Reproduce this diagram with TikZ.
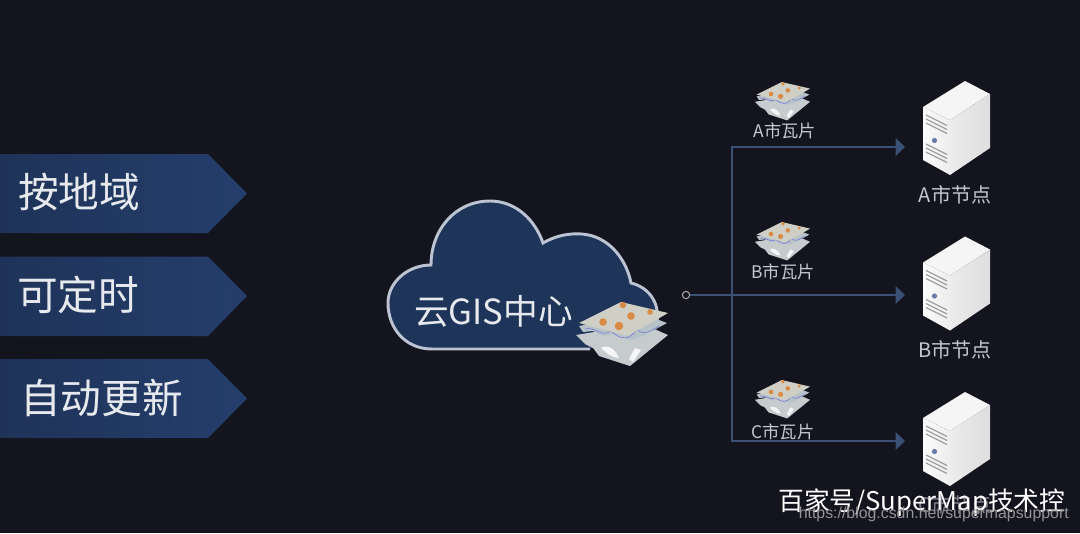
\documentclass[tikz,border=0pt]{standalone}
\usepackage{fontspec}
\setmainfont{Noto Sans CJK SC}
\newfontfamily\latinf{Liberation Sans}
\usetikzlibrary{arrows.meta}
\definecolor{bgc}{HTML}{14141F}
\definecolor{bandc}{HTML}{243E6C}
\definecolor{bandl}{HTML}{1F3358}
\definecolor{cloudc}{HTML}{1E3458}
\definecolor{cloudl}{HTML}{BCC3D2}
\definecolor{linec}{HTML}{3A5075}
\definecolor{txtc}{HTML}{E6E9EE}
\definecolor{lblc}{HTML}{C4C8CE}
\definecolor{tiletop}{HTML}{CFCFC6}
\definecolor{tilemid}{HTML}{B7C2C8}
\definecolor{tilebot}{HTML}{C6CBCE}
\definecolor{spotc}{HTML}{D98A45}
\tikzset{
  bandshape/.style={left color=bandl,right color=bandc,draw=none},
  bandtext/.style={text=txtc,font=\fontsize{30.5}{31}\selectfont,inner sep=0pt,anchor=west},
  tilelabel/.style={text=lblc,font=\fontsize{13}{14}\selectfont,inner sep=0pt},
  nodelabel/.style={text=lblc,font=\fontsize{15}{16}\selectfont,inner sep=0pt},
  conn/.style={draw=linec,line width=2pt},
  connarrow/.style={conn,-{Triangle[length=7pt,width=13pt,fill=linec]}},
  tiles/.pic={
    \fill[tilebot] (-47,3) -- (-38,12) -- (-30,16) -- (-24,24) -- (7,34) -- (45,3) -- (20,-8) -- cycle;
    \fill[white!92!gray] (-22,16) .. controls (-16,12) and (-8,16) .. (-4,26) .. controls (-10,26) and (-16,22) .. (-22,16) -- cycle;
    \fill[white!92!gray] (6,27) -- (12,16) -- (18,18) -- (10,30) -- cycle;
    \fill[tilemid] (-44,-6) -- (-40,0) -- (-30,-1) -- (-20,4) -- (-8,2) -- (8,8) -- (20,4) -- (44,-9) -- (20,-18) -- cycle;
    \draw[draw=tilemid!60!blue,line width=.4pt] (-38,-3) .. controls (-28,-6) and (-22,6) .. (-12,-1) .. controls (-2,8) and (6,9) .. (14,-3) .. controls (20,4) and (26,0) .. (36,-6);
    \fill[tiletop] (-44,-9) -- (-2,-30) -- (45,-19) -- (33,-12) -- (4,4) -- (-18,-2) -- cycle;
    \fill[spotc] (-20,-10) circle (3.8) (0,-27) circle (3.2) (8,-16) circle (3.8) (-4,-6) circle (4.3) (27,-20) circle (2.8);
  },
  serverpic/.pic={
    \fill[fill=white!92!gray] (923,107) -- (965,81) -- (990,94) -- (950,120) -- cycle;
    \shade[left color=white!96!gray,right color=white!86!gray] (923,107) -- (950,120) -- (950,175) -- (923,160) -- cycle;
    \shade[left color=white!85!gray,right color=white!74!gray] (950,120) -- (990,94) -- (990,148) -- (950,175) -- cycle;
    \foreach \v in {0,4,8} {
      \draw[gray!75,line width=.9pt] (926,115+\v) -- (947,125.5+\v);
      \draw[gray!75,line width=.9pt] (926,152-\v) -- (947,162.5-\v);
    }
    \fill[cyan!40!blue!50!gray] (934.5,140.5) circle (2.6);
  }
}
\begin{document}
\begin{tikzpicture}[x=0.75pt,y=-0.75pt]
\useasboundingbox (0,0) rectangle (1080,533);
\fill[bgc] (0,0) rectangle (1080,533);

% left bands
\path[bandshape] (0,154) -- (208,154) -- (247,193.5) -- (208,233) -- (0,233) -- cycle;
\path[bandshape] (0,256.5) -- (208,256.5) -- (247,296) -- (208,336) -- (0,336) -- cycle;
\path[bandshape] (0,359) -- (208,359) -- (247,398.5) -- (208,438) -- (0,438) -- cycle;
\node[bandtext] (bandA) at (18,192) {按地域};
\node[bandtext] (bandB) at (17,295) {可定时};
\node[bandtext] (bandC) at (20,398) {自动更新};

% cloud
\draw[fill=cloudc,draw=cloudl,line width=2.2pt]
  (590,349) -- (432,349)
  .. controls (405,349) and (388,328) .. (388,303)
  .. controls (388,282) and (408,265) .. (431,265)
  .. controls (431,230) and (455,201) .. (490,201)
  .. controls (516,201) and (535,220) .. (543,243)
  .. controls (555,236) and (568,233) .. (582,234)
  .. controls (608,236) and (626,258) .. (631,283)
  .. controls (648,287) and (660,302) .. (657,322);
\node[text=txtc,font=\fontsize{26}{26}\selectfont,inner sep=0pt,anchor=west] (cloudT) at (414,311) {云GIS中心};
\pic at (623,332) {tiles};

% connectors
\node[circle,draw=gray!70,line width=.8pt,inner sep=0pt,minimum size=5.5pt] (src) at (686,295) {};
\coordinate (jt) at (732,295);
\coordinate (topc) at (732,147);
\coordinate (botc) at (732,441);
\coordinate (endA) at (905,147);
\coordinate (endB) at (905,295);
\coordinate (endC) at (905,441);
\draw[conn,line width=1.4pt] (src) -- (jt);
\draw[connarrow] (jt) -- (endB);
\draw[connarrow] (topc) -- (endA);
\draw[connarrow] (botc) -- (endC);
\draw[conn,line cap=rect] (topc) -- (botc);

% small tiles
\pic[scale=.6] at (783,100) {tiles};
\pic[scale=.6] at (783,240) {tiles};
\pic[scale=.6] at (783,398) {tiles};
\node[tilelabel] (tA) at (785,131) {A市瓦片};
\node[tilelabel] (tB) at (783,272) {B市瓦片};
\node[tilelabel] (tC) at (783,432) {C市瓦片};

% servers
\pic at (0,0) {serverpic};
\pic at (0,155.5) {serverpic};
\pic at (0,311) {serverpic};
\node[nodelabel] (nA) at (955,195) {A市节点};
\node[nodelabel] (nB) at (955,350) {B市节点};
\node[nodelabel,text=lblc!60!bgc] (nC) at (955,505) {C市节点};

% watermarks
\node[text=white,font=\fontsize{19.3}{20}\selectfont,inner sep=0pt,anchor=west] (wm) at (778,503) {百家号/SuperMap技术控};
\node[text=gray!85,font=\latinf\fontsize{11.9}{13}\selectfont,inner sep=0pt,anchor=east] (url) at (1069,514) {https://blog.csdn.net/supermapsupport};
\end{tikzpicture}
\end{document}
